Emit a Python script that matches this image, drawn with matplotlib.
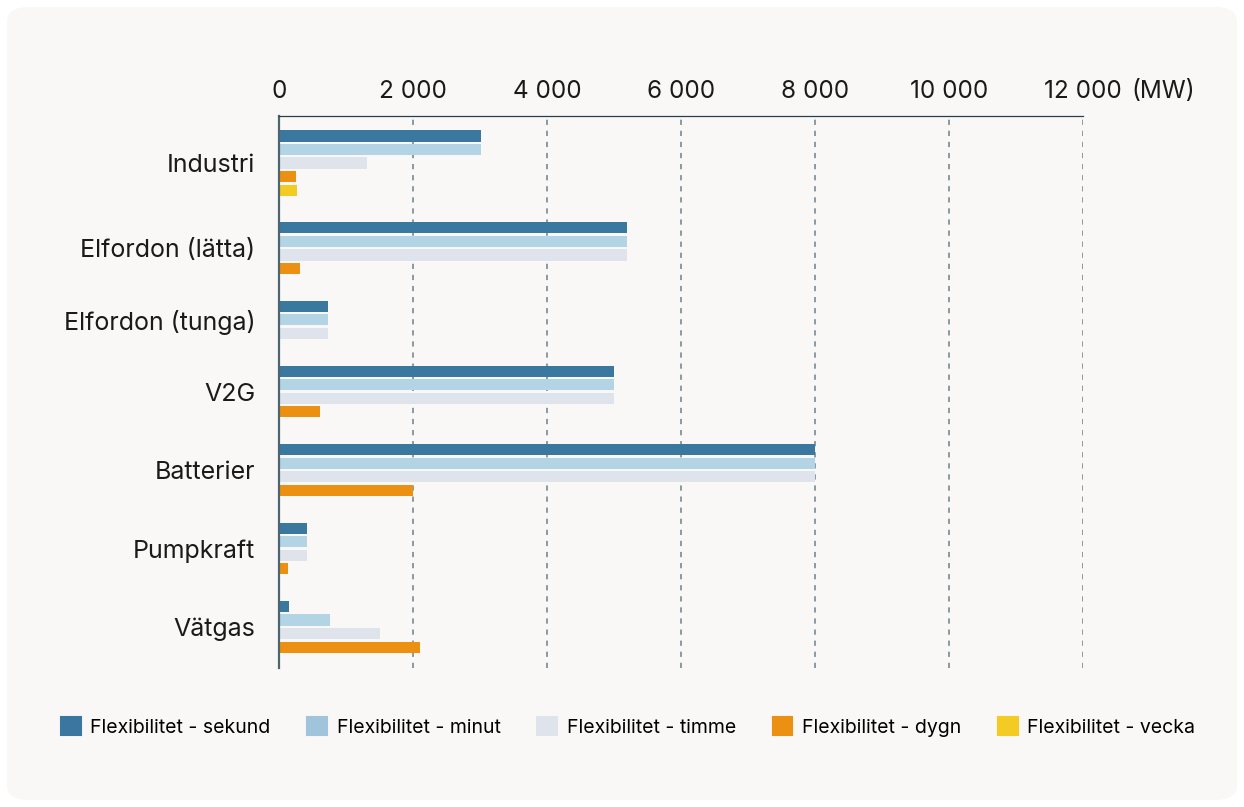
import matplotlib.pyplot as plt
from matplotlib.patches import FancyBboxPatch, Patch
from matplotlib.transforms import offset_copy

plt.rcParams['font.family'] = ['Inter', 'DejaVu Sans']

categories = ['Industri', 'Elfordon (lätta)', 'Elfordon (tunga)', 'V2G',
              'Batterier', 'Pumpkraft', 'Vätgas']
series = ['Flexibilitet - sekund', 'Flexibilitet - minut', 'Flexibilitet - timme',
          'Flexibilitet - dygn', 'Flexibilitet - vecka']
sekund = [3010, 5200, 730, 5000, 8000, 420, 150]
minut = [3010, 5200, 730, 5000, 8000, 420, 760]
timme = [1310, 5200, 730, 5000, 8000, 420, 1510]
dygn = [250, 310, 0, 610, 2000, 130, 2100]
vecka = [270, 0, 0, 0, 0, 0, 0]
xticks = [0, 2000, 4000, 6000, 8000, 10000, 12000]
xticklabels = ['0', '2 000', '4 000', '6 000', '8 000', '10 000', '12 000']

values = [sekund, minut, timme, dygn, vecka]
colors = ['#3a78a0', '#b3d4e5', '#dfe3eb', '#ec9012', '#f3cb22']
legend_colors = ['#3a76a0', '#a0c4dc', '#dfe3eb', '#ec9012', '#f3cb22']

fig = plt.figure(figsize=(12.44, 8.07), dpi=100)
fig.patch.set_facecolor('white')
panel = FancyBboxPatch((7 / 1244, 7 / 807), 1230 / 1244, 793 / 807,
                       boxstyle='round,pad=0,rounding_size=0.018',
                       transform=fig.transFigure, facecolor='#f9f8f6',
                       edgecolor='none', zorder=-5)
fig.add_artist(panel)

ax = fig.add_axes([0.2243, 0.1722, 0.6463, 0.6841])
ax.set_facecolor('none')
ax.set_zorder(1)

# slot positions: zero values are skipped, gap between groups
group_gap = 1.8
pos = 0.0
bar_pos = {i: {} for i in range(len(series))}
cat_pos = []
for c in range(len(categories)):
    ys = []
    for s in range(len(series)):
        if values[s][c] > 0:
            bar_pos[s][c] = pos
            ys.append(pos)
            pos += 1
    cat_pos.append(sum(ys) / len(ys))
    pos += group_gap
last = pos - group_gap - 1

for s in range(len(series)):
    cs = list(bar_pos[s].keys())
    ax.barh([bar_pos[s][c] for c in cs], [values[s][c] for c in cs],
            height=0.82, color=colors[s], zorder=2)

ax.set_xlim(0, 12000)
ax.set_ylim(last + 1.55, -1.48)
ax.xaxis.tick_top()
ax.set_xticks(xticks)
ax.set_xticklabels(xticklabels, fontsize=17.5, color='#1a1a1a')
ax.set_yticks(cat_pos)
ax.set_yticklabels(categories, fontsize=18, color='#1a1a1a')
ax.tick_params(axis='x', length=0, pad=9)
ax.tick_params(axis='y', length=0, pad=17)

ax.set_axisbelow(True)
ax.grid(axis='x', color='#8a9aa2', linewidth=1.4, linestyle=(0, (2.7, 3.0)))
ax.grid(axis='y', visible=False)

for side in ['right', 'bottom']:
    ax.spines[side].set_visible(False)
ax.spines['top'].set_color('#2c3e4c')
ax.spines['top'].set_linewidth(0.9)
ax.spines['left'].set_color('#4d6570')
ax.spines['left'].set_linewidth(1.6)

# unit after the last tick label
ax.text(1.0, 1.0, '(MW)', transform=offset_copy(ax.transAxes, fig=fig, x=35, y=9, units='points'),
        ha='left', va='bottom', fontsize=17.5, color='#1a1a1a')

handles = [Patch(facecolor=legend_colors[i], edgecolor=legend_colors[i], linewidth=1.5,
                 joinstyle='round', label=series[i]) for i in range(len(series))]
fig.legend(handles=handles, loc='center', bbox_to_anchor=(0.505, 0.099), ncol=5,
           frameon=False, fontsize=14, handlelength=1.0, handleheight=1.0,
           handletextpad=0.5, columnspacing=1.9)

fig.savefig('out.png', dpi=100, facecolor=fig.get_facecolor())
